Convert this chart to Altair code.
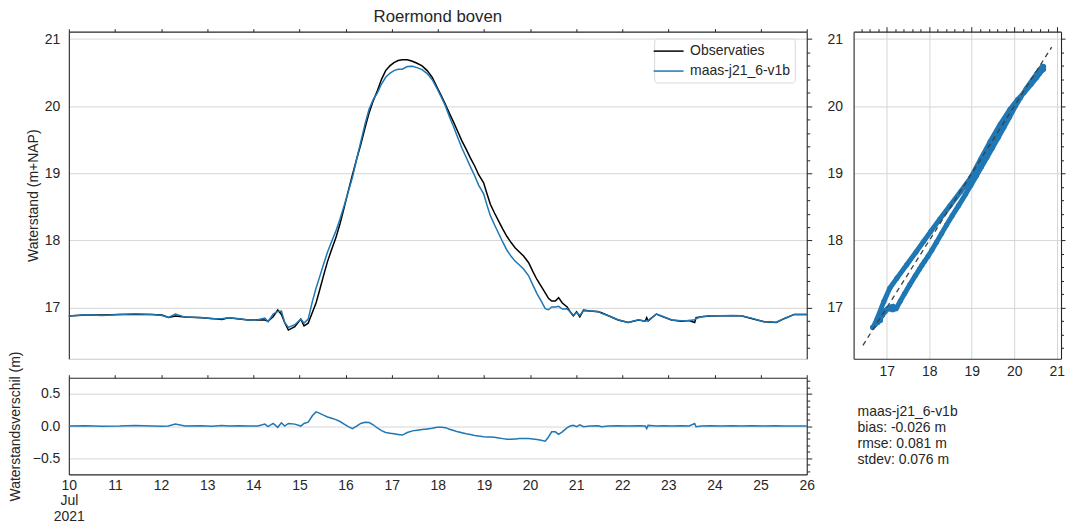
import altair as alt
import pandas as pd

# ---------------- data ----------------
# time in days of July 2021
days = [10.0, 10.36, 10.72, 11.1, 11.44, 11.8, 12.02, 12.16, 12.31, 12.52, 12.88, 13.1, 13.32, 13.46,
        13.7, 13.89, 14.1, 14.25, 14.32, 14.43, 14.53, 14.61, 14.68, 14.76, 14.9, 15.03, 15.1, 15.19,
        15.28, 15.36, 15.43, 15.52, 15.61, 15.7, 15.79, 15.88, 15.97, 16.06, 16.15, 16.24, 16.33, 16.42,
        16.51, 16.6, 16.69, 16.78, 16.87, 16.96, 17.05, 17.14, 17.23, 17.34, 17.45, 17.55, 17.66, 17.77,
        17.88, 17.985, 18.08, 18.165, 18.255, 18.345, 18.435, 18.525, 18.615, 18.706, 18.8, 18.886,
        18.994, 19.07, 19.14, 19.23, 19.32, 19.41, 19.5, 19.59, 19.68, 19.77, 19.86, 19.97, 20.06, 20.15,
        20.24, 20.33, 20.4, 20.47, 20.55, 20.62, 20.7, 20.8, 20.87, 20.94, 21.01, 21.08, 21.16,
        21.3, 21.48, 21.55, 21.7, 21.91, 22.13, 22.35, 22.5, 22.53, 22.56, 22.74, 22.9, 23.07, 23.28,
        23.45, 23.57, 23.6, 23.72, 23.9, 24.15, 24.4, 24.58, 24.8, 25.08, 25.34, 25.52, 25.73, 26.0]

# observed water level (m+NAP)
obs = [16.876, 16.89, 16.89, 16.9, 16.9, 16.9, 16.89, 16.856, 16.876, 16.86, 16.85, 16.84, 16.826, 16.85,
       16.83, 16.816, 16.82, 16.816, 16.8, 16.866, 16.965, 16.9, 16.78, 16.667, 16.717, 16.83, 16.73, 16.77,
       16.93, 17.07, 17.24, 17.47, 17.69, 17.87, 18.04, 18.25, 18.49, 18.74, 18.98, 19.21, 19.43, 19.67,
       19.9, 20.08, 20.23, 20.4, 20.53, 20.6, 20.65, 20.68, 20.69, 20.69, 20.67, 20.64, 20.6, 20.53,
       20.43, 20.28, 20.15, 20.03, 19.89, 19.76, 19.62, 19.48, 19.36, 19.23, 19.11, 18.98,
       18.86, 18.69, 18.54, 18.41, 18.29, 18.17, 18.06, 17.97, 17.89, 17.83, 17.77, 17.67, 17.54, 17.42,
       17.32, 17.22, 17.14, 17.1, 17.1, 17.15, 17.07, 17.015, 16.94, 16.88, 16.94, 16.866, 16.965,
       16.95, 16.94, 16.926, 16.88, 16.816, 16.78, 16.816, 16.8, 16.85, 16.8, 16.906, 16.86, 16.816, 16.8,
       16.81, 16.78, 16.85, 16.866, 16.875, 16.88, 16.88, 16.88, 16.84, 16.79, 16.78, 16.84, 16.9, 16.9]

# model minus observation (m)
resid = [0.0, 0.005, -0.005, 0.0, 0.01, 0.0, -0.005, 0.0, 0.03, 0.0, 0.005, -0.005, 0.01, 0.0,
         0.005, 0.0, 0.0, 0.03, -0.01, 0.04, -0.02, 0.05, 0.0, 0.04, 0.03, 0.0, 0.04, 0.06,
         0.16, 0.22, 0.2, 0.17, 0.14, 0.12, 0.1, 0.07, 0.03, -0.01, -0.04, 0.0, 0.04, 0.06,
         0.055, 0.02, -0.03, -0.07, -0.1, -0.11, -0.12, -0.13, -0.14, -0.1, -0.075, -0.065, -0.055, -0.045,
         -0.035, -0.02, -0.02, -0.025, -0.05, -0.07, -0.09, -0.105, -0.12, -0.13, -0.145, -0.155,
         -0.165, -0.17, -0.17, -0.175, -0.185, -0.195, -0.205, -0.205, -0.2, -0.195, -0.195, -0.195, -0.2, -0.21,
         -0.22, -0.235, -0.17, -0.09, -0.09, -0.13, -0.09, -0.03, 0.0, 0.01, -0.01, 0.02, -0.01,
         0.0, 0.005, -0.01, 0.0, 0.005, 0.0, 0.005, 0.0, -0.04, 0.01, 0.0, 0.005, 0.0, 0.005,
         0.0, 0.04, -0.01, 0.0, 0.005, 0.0, 0.005, 0.0, 0.005, 0.0, 0.005, 0.0, 0.0, 0.0]

model = [round(o + r, 3) for o, r in zip(obs, resid)]

series_names = ["Observaties", "maas-j21_6-v1b"]
series_colors = ["#000000", "#1f77b4"]
diag = [16.44, 20.88]
stats_lines = ["maas-j21_6-v1b", "bias: -0.026 m", "rmse: 0.081 m", "stdev: 0.076 m"]
title_text = "Roermond boven"
y_title = "Waterstand (m+NAP)"
r_title = "Waterstandsverschil (m)"

day_ticks = list(range(10, 27))
level_ticks = [17, 18, 19, 20, 21]
resid_ticks = [-0.5, 0.0, 0.5]
level_minor = [round(16.4 + 0.2 * i, 1) for i in range(24)]
resid_minor = [round(-0.7 + 0.1 * i, 1) for i in range(15)]

# ---------------- style ----------------
FONT = "Liberation Sans"
DARK = "#262626"
GRID = "#d6d6d6"
BLUE = "#1f77b4"

df = pd.DataFrame({"day": days, "obs": obs, "model": model, "resid": resid})
long = pd.concat([
    pd.DataFrame({"day": days, "level": obs, "series": series_names[0]}),
    pd.DataFrame({"day": days, "level": model, "series": series_names[1]}),
], ignore_index=True)

xs = alt.Scale(domain=[10, 26], nice=False, zero=False)
ys = alt.Scale(domain=[16.24, 21.11], nice=False, zero=False)
rs = alt.Scale(domain=[-0.75, 0.75], nice=False, zero=False)
sx = alt.Scale(domain=[16.22, 21.1], nice=False, zero=False)

tick_main = {"condition": {"test": "datum.value % 1 === 0", "value": 5}, "value": 3}
tick_sc_right = {"condition": {"test": "datum.value % 1 === 0", "value": 4}, "value": 2.5}
tick_resid = {"condition": {"test": "datum.value % 0.5 === 0", "value": 5}, "value": 3}

# ---------------- main panel ----------------
lines = alt.Chart(long).mark_line(strokeWidth=1.5).encode(
    x=alt.X("day:Q", scale=xs, axis=alt.Axis(orient="bottom", values=day_ticks, labels=False, ticks=False,
                                               grid=False, domainColor="#c8c8c8", title=None)),
    y=alt.Y("level:Q", scale=ys, axis=alt.Axis(orient="left", values=level_ticks, grid=True, ticks=False,
                                                labelPadding=9, title=y_title, titlePadding=4)),
    color=alt.Color("series:N", scale=alt.Scale(domain=series_names, range=series_colors),
                    legend=alt.Legend(orient="none", legendX=587, legendY=7, title=None,
                                      symbolType="M-2,0H2", symbolSize=225, symbolStrokeWidth=1.5,
                                      symbolOffset=2, labelOffset=13, padding=4, rowPadding=4,
                                      strokeColor="#d9d9d9", fillColor="white", cornerRadius=3,
                                      labelFontSize=14, labelFont=FONT, labelColor=DARK)),
)
main_ticks = alt.Chart(df).mark_point(opacity=0).encode(
    x=alt.X("day:Q", scale=xs, axis=alt.Axis(orient="top", values=day_ticks, labels=False, tickSize=3,
                                               grid=False, title=None)),
    y=alt.Y("obs:Q", scale=ys, axis=alt.Axis(orient="right", values=level_minor, labels=False,
                                              tickSize=tick_main, grid=False, title=None)),
)
main = alt.layer(lines, main_ticks).resolve_axis(x="independent", y="independent").properties(
    width=740, height=328,
    title=alt.TitleParams(title_text, fontSize=16.8, fontWeight="normal", font=FONT, color=DARK, offset=2),
)

# ---------------- residual panel ----------------
rline = alt.Chart(df).mark_line(strokeWidth=1.5, color=BLUE).encode(
    x=alt.X("day:Q", scale=xs, axis=alt.Axis(orient="bottom", values=day_ticks, ticks=False, grid=False,
                                               labelFlush=False, labelPadding=4, labelLineHeight=15.5,
                                               labelOverlap=False,
                                               labelExpr="datum.value == 10 ? ['10', 'Jul', '2021'] : datum.label",
                                               title=None)),
    y=alt.Y("resid:Q", scale=rs, axis=alt.Axis(orient="left", values=resid_ticks, grid=True, ticks=False,
                                                labelPadding=9, titlePadding=10, title=r_title,
                                                labelExpr="datum.value < 0 ? '\u2212' + format(-datum.value, '.1f') : format(datum.value, '.1f')")),
)
rticks = alt.Chart(df).mark_point(opacity=0).encode(
    x=alt.X("day:Q", scale=xs, axis=alt.Axis(orient="top", values=day_ticks, labels=False, tickSize=3,
                                               grid=False, title=None)),
    y=alt.Y("resid:Q", scale=rs, axis=alt.Axis(orient="right", values=resid_minor, labels=False,
                                                tickSize=tick_resid, grid=False, title=None)),
)
residual = alt.layer(rline, rticks).resolve_axis(x="independent", y="independent").properties(
    width=740, height=97)

# ---------------- scatter panel ----------------
sc_line = alt.Chart(df).mark_line(strokeWidth=5, color=BLUE, strokeCap="round", strokeJoin="round").encode(
    x=alt.X("obs:Q", scale=sx, axis=alt.Axis(orient="bottom", values=level_ticks, grid=True, ticks=False,
                                              labelFlush=False, labelPadding=6, title=None)),
    y=alt.Y("model:Q", scale=ys, axis=alt.Axis(orient="left", values=level_ticks, grid=True, ticks=False,
                                                labelPadding=11, title=None)),
    order="day:Q",
)
sc_pts = alt.Chart(df).mark_circle(size=26, color=BLUE, opacity=1).encode(
    x=alt.X("obs:Q", scale=sx, axis=None),
    y=alt.Y("model:Q", scale=ys, axis=None),
)
sc_diag = alt.Chart(pd.DataFrame({"v": diag})).mark_line(color="#404040", strokeDash=[5, 4], strokeWidth=1.3).encode(
    x=alt.X("v:Q", scale=sx, axis=None),
    y=alt.Y("v:Q", scale=ys, axis=None),
)
sc_ticks = alt.Chart(df).mark_point(opacity=0).encode(
    x=alt.X("obs:Q", scale=sx, axis=alt.Axis(orient="top", values=level_minor, labels=False,
                                              tickSize=tick_main, grid=False, title=None)),
    y=alt.Y("model:Q", scale=ys, axis=alt.Axis(orient="right", values=level_minor, labels=False,
                                                tickSize=tick_sc_right, grid=False, title=None)),
)
scatter = alt.layer(sc_line, sc_pts, sc_diag, sc_ticks).resolve_axis(x="independent", y="independent").properties(
    width=208, height=328,
)

# ---------------- statistics text ----------------
stats = alt.Chart(pd.DataFrame({"t": ["\n".join(stats_lines)]})).mark_text(
    align="left", baseline="top", fontSize=14, lineHeight=16.3, font=FONT, color=DARK, lineBreak="\n"
).encode(text="t:N", x=alt.value(4), y=alt.value(26)).properties(width=208, height=60)

left_col = alt.vconcat(main, residual, spacing=19, bounds="flush")
right_col = alt.vconcat(scatter, stats, spacing=20, bounds="flush")

chart = alt.hconcat(left_col, right_col, spacing=12).properties(
    padding={"left": 0, "top": 0, "right": 0, "bottom": 0}
).configure_view(stroke=None).configure_axis(
    labelFont=FONT, titleFont=FONT, labelColor=DARK, titleColor=DARK, labelFontSize=14,
    titleFontSize=14, titleFontWeight="normal", domainColor=DARK, tickColor=DARK, gridColor=GRID,
    domainWidth=1.1, tickWidth=1,
)

chart.save("out.html", embed_options={"renderer": "svg", "actions": False})
